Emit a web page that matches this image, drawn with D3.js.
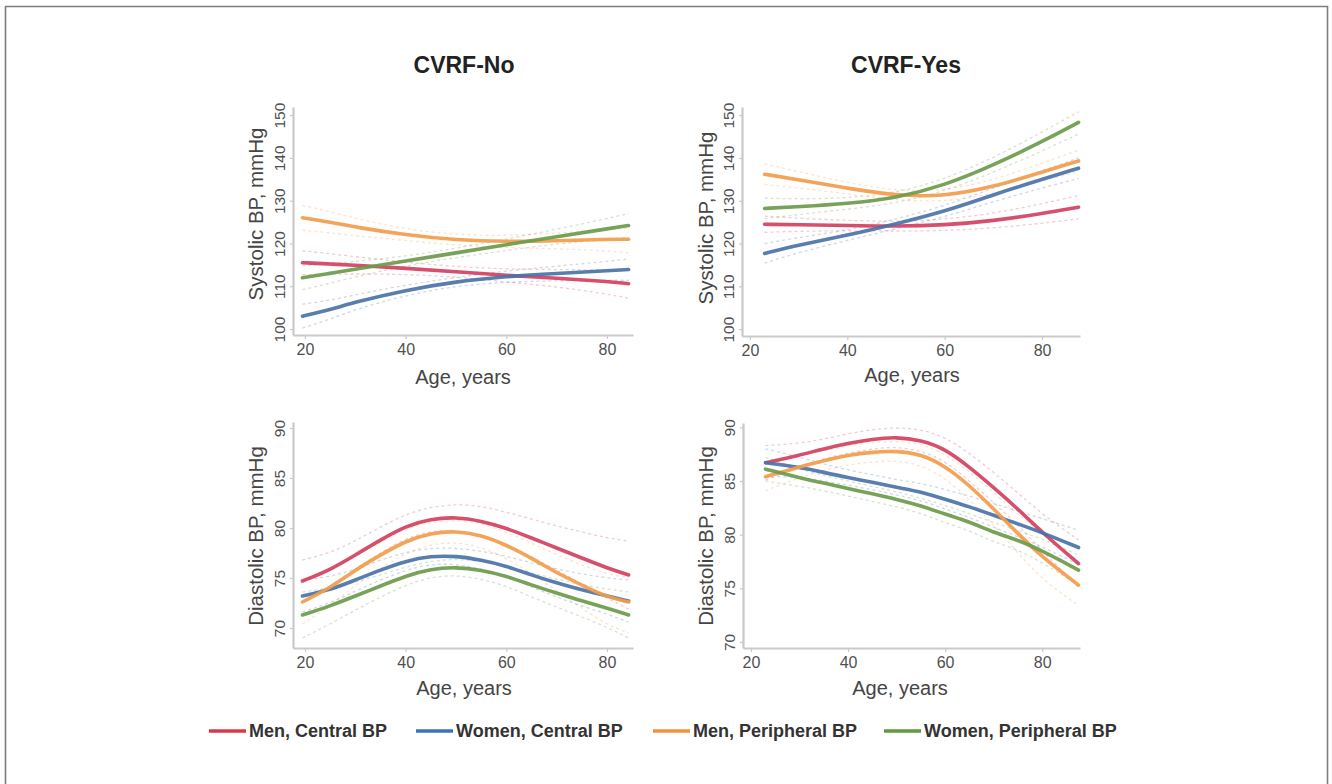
<!DOCTYPE html>
<html>
<head>
<meta charset="utf-8">
<script src="https://cdn.jsdelivr.net/npm/d3@7"></script>
<style>
  html, body { margin: 0; padding: 0; background: #fff; }
  svg { display: block; font-family: "Liberation Sans", Arial, Helvetica, sans-serif; }
</style>
</head>
<body>
<script>
// ---------------- DATA ----------------
const seriesNames = ["Men, Central BP", "Women, Central BP", "Men, Peripheral BP", "Women, Peripheral BP"];
const panelTitles = ["CVRF-No", "CVRF-Yes"];
const xTickValues = [20, 40, 60, 80];
const sysTickValues = [100, 110, 120, 130, 140, 150];
const diaTickValues = [70, 75, 80, 85, 90];
const xTitle = "Age, years";
const sysTitle = "Systolic BP, mmHg";
const diaTitle = "Diastolic BP, mmHg";

// Systolic, CVRF-No
const agesSysNo = [19.5, 25, 30, 40, 50, 60, 70, 80, 84.3];
const sysNoMenC   = [115.5, 115.2, 114.9, 114.2, 113.4, 112.5, 111.9, 111.1, 110.6];
const sysNoMenC_hi = [118.3, 117.6, 116.9, 115.6, 114.6, 114.0, 113.9, 113.8, 113.8];
const sysNoMenC_lo = [112.7, 112.8, 112.9, 112.8, 112.2, 111.0, 109.9, 108.2, 107.2];
const sysNoWomC   = [103.0, 104.5, 106.3, 109.1, 111.1, 112.3, 113.0, 113.6, 113.9];
const sysNoWomC_hi = [105.8, 106.7, 108.0, 110.3, 112.1, 113.6, 114.7, 115.8, 116.4];
const sysNoWomC_lo = [100.2, 102.3, 104.6, 107.9, 110.1, 111.0, 111.3, 111.4, 111.4];
const sysNoMenP   = [126.0, 125.0, 123.8, 122.0, 120.8, 120.4, 120.6, 121.0, 121.0];
const sysNoMenP_hi = [128.9, 127.5, 125.8, 123.3, 122.0, 121.8, 122.4, 123.2, 123.6];
const sysNoMenP_lo = [123.1, 122.5, 121.8, 120.7, 119.6, 119.0, 118.8, 118.3, 117.8];
const sysNoWomP   = [112.0, 113.0, 114.0, 115.9, 117.8, 119.7, 121.6, 123.4, 124.2];
const sysNoWomP_hi = [114.8, 115.3, 115.8, 117.0, 118.9, 121.0, 123.3, 125.8, 127.0];
const sysNoWomP_lo = [109.2, 110.7, 112.2, 114.8, 116.7, 118.4, 119.9, 121.0, 121.4];

// Systolic, CVRF-Yes
const agesSysYes = [23, 30, 40, 50, 60, 70, 80, 87.5];
const sysYesMenC   = [124.5, 124.4, 124.2, 124.0, 124.3, 125.3, 127.0, 128.5];
const sysYesMenC_hi = [126.4, 125.9, 125.4, 125.1, 125.6, 127.0, 129.3, 131.2];
const sysYesMenC_lo = [122.6, 122.9, 123.0, 122.9, 123.0, 123.6, 124.7, 125.8];
const sysYesWomC   = [117.7, 119.7, 121.9, 124.6, 127.5, 131.4, 135.0, 137.6];
const sysYesWomC_hi = [120.0, 121.4, 123.1, 125.7, 128.8, 133.0, 137.0, 140.0];
const sysYesWomC_lo = [115.4, 118.0, 120.7, 123.5, 126.2, 129.8, 133.0, 135.2];
const sysYesMenP   = [136.2, 134.9, 132.9, 131.2, 131.0, 133.2, 136.7, 139.3];
const sysYesMenP_hi = [138.6, 136.8, 134.2, 132.3, 132.3, 134.8, 138.8, 141.8];
const sysYesMenP_lo = [133.8, 133.0, 131.6, 130.1, 129.7, 131.6, 134.6, 136.8];
const sysYesWomP   = [128.2, 128.6, 129.3, 130.6, 133.6, 138.3, 143.8, 148.3];
const sysYesWomP_hi = [130.6, 130.4, 130.6, 131.8, 135.0, 140.0, 146.0, 150.8];
const sysYesWomP_lo = [125.8, 126.8, 128.0, 129.4, 132.2, 136.6, 141.6, 145.6];

// Diastolic, CVRF-No
const agesDiaNo = [19.5, 25, 30, 35, 40, 45, 50, 55, 60, 65, 70, 75, 80, 84.3];
const diaNoMenC   = [74.7, 75.8, 77.3, 78.8, 80.2, 80.9, 81.1, 80.7, 80.0, 79.0, 78.0, 77.0, 76.0, 75.3];
const diaNoMenC_hi = [76.8, 77.5, 78.7, 80.1, 81.4, 82.1, 82.4, 82.2, 81.6, 80.9, 80.2, 79.6, 79.0, 78.7];
const diaNoMenC_lo = [72.6, 74.1, 75.9, 77.5, 79.0, 79.7, 79.8, 79.2, 78.4, 77.1, 75.8, 74.4, 73.0, 71.9];
const diaNoWomC   = [73.2, 73.8, 74.8, 75.8, 76.7, 77.2, 77.2, 76.8, 76.2, 75.3, 74.5, 73.8, 73.2, 72.7];
const diaNoWomC_hi = [74.8, 75.1, 75.9, 76.8, 77.6, 78.0, 78.0, 77.7, 77.2, 76.5, 75.9, 75.4, 75.0, 74.8];
const diaNoWomC_lo = [71.6, 72.5, 73.7, 74.8, 75.8, 76.4, 76.4, 75.9, 75.2, 74.1, 73.1, 72.2, 71.4, 70.6];
const diaNoMenP   = [72.6, 74.0, 75.8, 77.3, 78.7, 79.5, 79.7, 79.3, 78.3, 77.0, 75.5, 74.3, 73.1, 72.6];
const diaNoMenP_hi = [74.8, 75.8, 77.3, 78.6, 79.9, 80.6, 80.8, 80.5, 79.6, 78.5, 77.3, 76.3, 75.4, 75.0];
const diaNoMenP_lo = [70.4, 72.2, 74.3, 76.0, 77.5, 78.4, 78.6, 78.1, 77.0, 75.5, 73.7, 72.0, 70.3, 69.5];
const diaNoWomP   = [71.3, 72.2, 73.2, 74.2, 75.2, 75.9, 76.1, 75.8, 75.2, 74.3, 73.5, 72.7, 72.0, 71.3];
const diaNoWomP_hi = [73.6, 74.0, 74.6, 75.3, 76.1, 76.7, 76.9, 76.7, 76.2, 75.5, 74.9, 74.3, 73.9, 73.6];
const diaNoWomP_lo = [69.0, 70.4, 71.8, 73.1, 74.3, 75.1, 75.3, 74.9, 74.2, 73.1, 72.1, 71.1, 70.1, 69.0];

// Diastolic, CVRF-Yes
const agesDiaYes = [23, 30, 35, 40, 45, 50, 55, 60, 65, 70, 75, 80, 87.5];
const diaYesMenC   = [86.7, 87.4, 88.0, 88.5, 88.9, 89.1, 88.8, 88.0, 86.3, 84.4, 82.4, 80.2, 77.3];
const diaYesMenC_hi = [88.3, 88.5, 88.9, 89.4, 89.8, 90.0, 89.8, 89.1, 87.6, 85.8, 83.9, 81.9, 79.5];
const diaYesMenC_lo = [85.1, 86.3, 87.1, 87.6, 88.0, 88.2, 87.8, 86.9, 85.0, 83.0, 80.9, 78.5, 75.1];
const diaYesWomC   = [86.7, 86.3, 85.8, 85.3, 84.9, 84.4, 84.0, 83.3, 82.6, 81.8, 81.0, 80.2, 78.8];
const diaYesWomC_hi = [88.0, 87.2, 86.6, 86.0, 85.6, 85.1, 84.8, 84.2, 83.6, 82.9, 82.2, 81.5, 80.4];
const diaYesWomC_lo = [85.4, 85.4, 85.0, 84.6, 84.2, 83.7, 83.2, 82.4, 81.6, 80.7, 79.8, 78.9, 77.2];
const diaYesMenP   = [85.4, 86.3, 86.9, 87.4, 87.7, 87.8, 87.5, 86.4, 84.6, 82.4, 80.1, 77.9, 75.3];
const diaYesMenP_hi = [86.7, 87.3, 87.8, 88.3, 88.6, 88.7, 88.5, 87.5, 85.9, 83.9, 81.9, 80.0, 77.5];
const diaYesMenP_lo = [84.1, 85.3, 86.0, 86.5, 86.8, 86.9, 86.5, 85.3, 83.3, 80.9, 78.3, 75.8, 73.4];
const diaYesWomP   = [86.1, 85.3, 84.8, 84.3, 83.8, 83.3, 82.7, 81.9, 81.2, 80.2, 79.5, 78.5, 76.7];
const diaYesWomP_hi = [87.2, 86.1, 85.5, 85.0, 84.5, 84.0, 83.4, 82.7, 82.0, 81.1, 80.4, 79.6, 78.1];
const diaYesWomP_lo = [85.0, 84.5, 84.1, 83.6, 83.1, 82.6, 82.0, 81.1, 80.4, 79.3, 78.6, 77.4, 75.3];

// ---------------- STYLE / LAYOUT ----------------
const colors = ["#d3405f", "#4a72a8", "#f39c4a", "#6b9b4a"];
const legendColors = ["#d83a4a", "#3f6fc0", "#f4923c", "#5f9a3e"];

const W = 1332, H = 784;
const svg = d3.select("body").append("svg").attr("width", W).attr("height", H);
svg.append("rect").attr("width", W).attr("height", H).attr("fill", "#fff");
// frame
svg.append("path")
  .attr("d", `M5.5,${H + 2} V6.5 H1327.5 V${H + 2}`)
  .attr("fill", "none").attr("stroke", "#7d7d7d").attr("stroke-width", 1.6);

const panels = [
  { ages: agesSysNo, left: 293, right: 633, top: 107, bottom: 335, xDomain: [17.62, 85.17], yDomain: [98.6, 151.9],
    yTicks: sysTickValues, yTitle: sysTitle, yTitleX: 256, yTitleY: 214, xTitleX: 463, xTitleY: 384,
    series: [[sysNoMenC, sysNoMenC_lo, sysNoMenC_hi], [sysNoWomC, sysNoWomC_lo, sysNoWomC_hi],
             [sysNoMenP, sysNoMenP_lo, sysNoMenP_hi], [sysNoWomP, sysNoWomP_lo, sysNoWomP_hi]] },
  { ages: agesSysYes, left: 742, right: 1080, top: 107, bottom: 336, xDomain: [18.36, 87.8], yDomain: [98.4, 151.9],
    yTicks: sysTickValues, yTitle: sysTitle, yTitleX: 706, yTitleY: 218, xTitleX: 912, xTitleY: 382,
    series: [[sysYesMenC, sysYesMenC_lo, sysYesMenC_hi], [sysYesWomC, sysYesWomC_lo, sysYesWomC_hi],
             [sysYesMenP, sysYesMenP_lo, sysYesMenP_hi], [sysYesWomP, sysYesWomP_lo, sysYesWomP_hi]] },
  { ages: agesDiaNo, left: 293, right: 633, top: 422, bottom: 648, xDomain: [17.62, 85.17], yDomain: [68.0, 90.6],
    yTicks: diaTickValues, yTitle: diaTitle, yTitleX: 256, yTitleY: 536, xTitleX: 464, xTitleY: 695,
    series: [[diaNoMenC, diaNoMenC_lo, diaNoMenC_hi], [diaNoWomC, diaNoWomC_lo, diaNoWomC_hi],
             [diaNoMenP, diaNoMenP_lo, diaNoMenP_hi], [diaNoWomP, diaNoWomP_lo, diaNoWomP_hi]] },
  { ages: agesDiaYes, left: 743, right: 1080, top: 423, bottom: 648, xDomain: [18.36, 87.8], yDomain: [69.44, 90.4],
    yTicks: diaTickValues, yTitle: diaTitle, yTitleX: 706, yTitleY: 536, xTitleX: 900, xTitleY: 695,
    series: [[diaYesMenC, diaYesMenC_lo, diaYesMenC_hi], [diaYesWomC, diaYesWomC_lo, diaYesWomC_hi],
             [diaYesMenP, diaYesMenP_lo, diaYesMenP_hi], [diaYesWomP, diaYesWomP_lo, diaYesWomP_hi]] }
];

const axisColor = "#c9c9c9";
const tickTextColor = "#505050";
const titleColor = "#454545";

panels.forEach(p => {
  const x = d3.scaleLinear().domain(p.xDomain).range([p.left, p.right]);
  const y = d3.scaleLinear().domain(p.yDomain).range([p.bottom, p.top]);
  const g = svg.append("g");

  // x axis
  const gx = g.append("g").attr("transform", `translate(0,${p.bottom})`)
    .call(d3.axisBottom(x).tickValues(xTickValues).tickSize(4).tickSizeOuter(0).tickPadding(5));
  gx.select(".domain").attr("stroke", axisColor).attr("stroke-width", 2.2);
  gx.selectAll(".tick line").attr("stroke", axisColor).attr("stroke-width", 1.2);
  gx.selectAll(".tick text").attr("fill", tickTextColor).style("font-size", "16px");

  // y axis
  const gy = g.append("g").attr("transform", `translate(${p.left},0)`)
    .call(d3.axisLeft(y).tickValues(p.yTicks).tickSize(3).tickSizeOuter(0));
  gy.select(".domain").attr("stroke", axisColor).attr("stroke-width", 2.2);
  gy.selectAll(".tick line").attr("stroke", axisColor).attr("stroke-width", 1.2);
  gy.selectAll(".tick text")
    .attr("fill", tickTextColor).style("font-size", "15.5px")
    .attr("x", 0).attr("dy", 0)
    .attr("text-anchor", "middle")
    .attr("transform", "translate(-8,0) rotate(-90)");

  // axis titles
  g.append("text").attr("x", p.xTitleX).attr("y", p.xTitleY)
    .attr("text-anchor", "middle").attr("fill", titleColor).style("font-size", "20px").text(xTitle);
  g.append("text").attr("transform", `translate(${p.yTitleX},${p.yTitleY}) rotate(-90)`)
    .attr("text-anchor", "middle").attr("dy", "0.35em").attr("fill", titleColor).style("font-size", "20.5px").text(p.yTitle);

  const line = vals => d3.line()
    .x((d, i) => x(p.ages[i]))
    .y(d => y(d))
    .curve(d3.curveBasis)(vals);

  // confidence bands (dashed)
  p.series.forEach((s, k) => {
    [s[1], s[2]].forEach(b => {
      g.append("path").attr("d", line(b))
        .attr("fill", "none").attr("stroke", colors[k]).attr("stroke-opacity", 0.28)
        .attr("stroke-width", 1.3).attr("stroke-dasharray", "3,3");
    });
  });
  // fitted lines
  p.series.forEach((s, k) => {
    g.append("path").attr("d", line(s[0]))
      .attr("fill", "none").attr("stroke", colors[k])
      .attr("stroke-width", 3.6).attr("stroke-linecap", "round").attr("stroke-opacity", 0.92);
  });
});

// panel titles
const titleXs = [464, 906];
panelTitles.forEach((t, i) => {
  svg.append("text").attr("x", titleXs[i]).attr("y", 73)
    .attr("text-anchor", "middle").attr("fill", "#222")
    .style("font-size", "23px").style("font-weight", "bold").text(t);
});

// legend
const legendXs = [209, 416, 653, 884];
const legendY = 731;
seriesNames.forEach((n, i) => {
  const lg = svg.append("g").attr("transform", `translate(${legendXs[i]},${legendY})`);
  lg.append("line").attr("x1", 0).attr("x2", 37).attr("y1", 0).attr("y2", 0)
    .attr("stroke", legendColors[i]).attr("stroke-width", 3.5);
  lg.append("text").attr("x", 40).attr("y", 0).attr("dy", "0.36em")
    .attr("fill", "#333").style("font-size", "18px").style("font-weight", "bold").text(n);
});
</script>
</body>
</html>
